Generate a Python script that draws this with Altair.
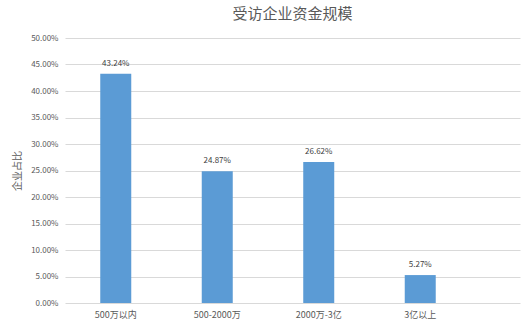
import altair as alt
import pandas as pd

categories = ["500万以内", "500-2000万", "2000万-3亿", "3亿以上"]
shares = [0.4324, 0.2487, 0.2662, 0.0527]
labels = ["43.24%", "24.87%", "26.62%", "5.27%"]
y_ticks = [0.0, 0.05, 0.10, 0.15, 0.20, 0.25, 0.30, 0.35, 0.40, 0.45, 0.50]

df = pd.DataFrame({"cat": categories, "share": shares, "label": labels})

FONT = "Noto Sans CJK SC"

x = alt.X("cat:N", sort=categories,
          scale=alt.Scale(paddingInner=0.5, paddingOuter=0.4915, align=0.2544),
          axis=alt.Axis(title=None, labelAngle=0, domain=False, ticks=False,
                        labelPadding=7, labelFontSize=9, labelColor="#595959",
                        labelFont=FONT, grid=False))
y = alt.Y("share:Q",
          scale=alt.Scale(domain=[0, 0.5]),
          axis=alt.Axis(title="企业占比", format=".2%", values=y_ticks,
                        tickCount=11, labelOverlap=False,
                        domain=False, ticks=False, labelPadding=7, labelFontSize=8,
                        labelColor="#595959", labelFont=FONT,
                        titleFontSize=10, titleColor="#595959", titleFont=FONT,
                        titleFontWeight="normal", titlePadding=8,
                        gridColor="#D9D9D9", gridWidth=1))

bars = alt.Chart(df).mark_bar(size=31, color="#5B9BD5").encode(x=x, y=y)
text = alt.Chart(df).mark_text(baseline="bottom", dy=-6, fontSize=8, color="#404040",
                               font=FONT).encode(x=x, y=y, text="label:N")

chart = (bars + text).properties(
    width=455, height=265,
    title=alt.TitleParams("受访企业资金规模", fontSize=15, color="#595959", font=FONT,
                          fontWeight="normal", offset=12, anchor="middle"),
    autosize=alt.AutoSizeParams(type="none"),
    padding={"left": 65, "top": 38, "right": 2, "bottom": 24},
).configure_view(stroke=None)

chart.save("out.html", embed_options={"renderer": "svg", "actions": False})
